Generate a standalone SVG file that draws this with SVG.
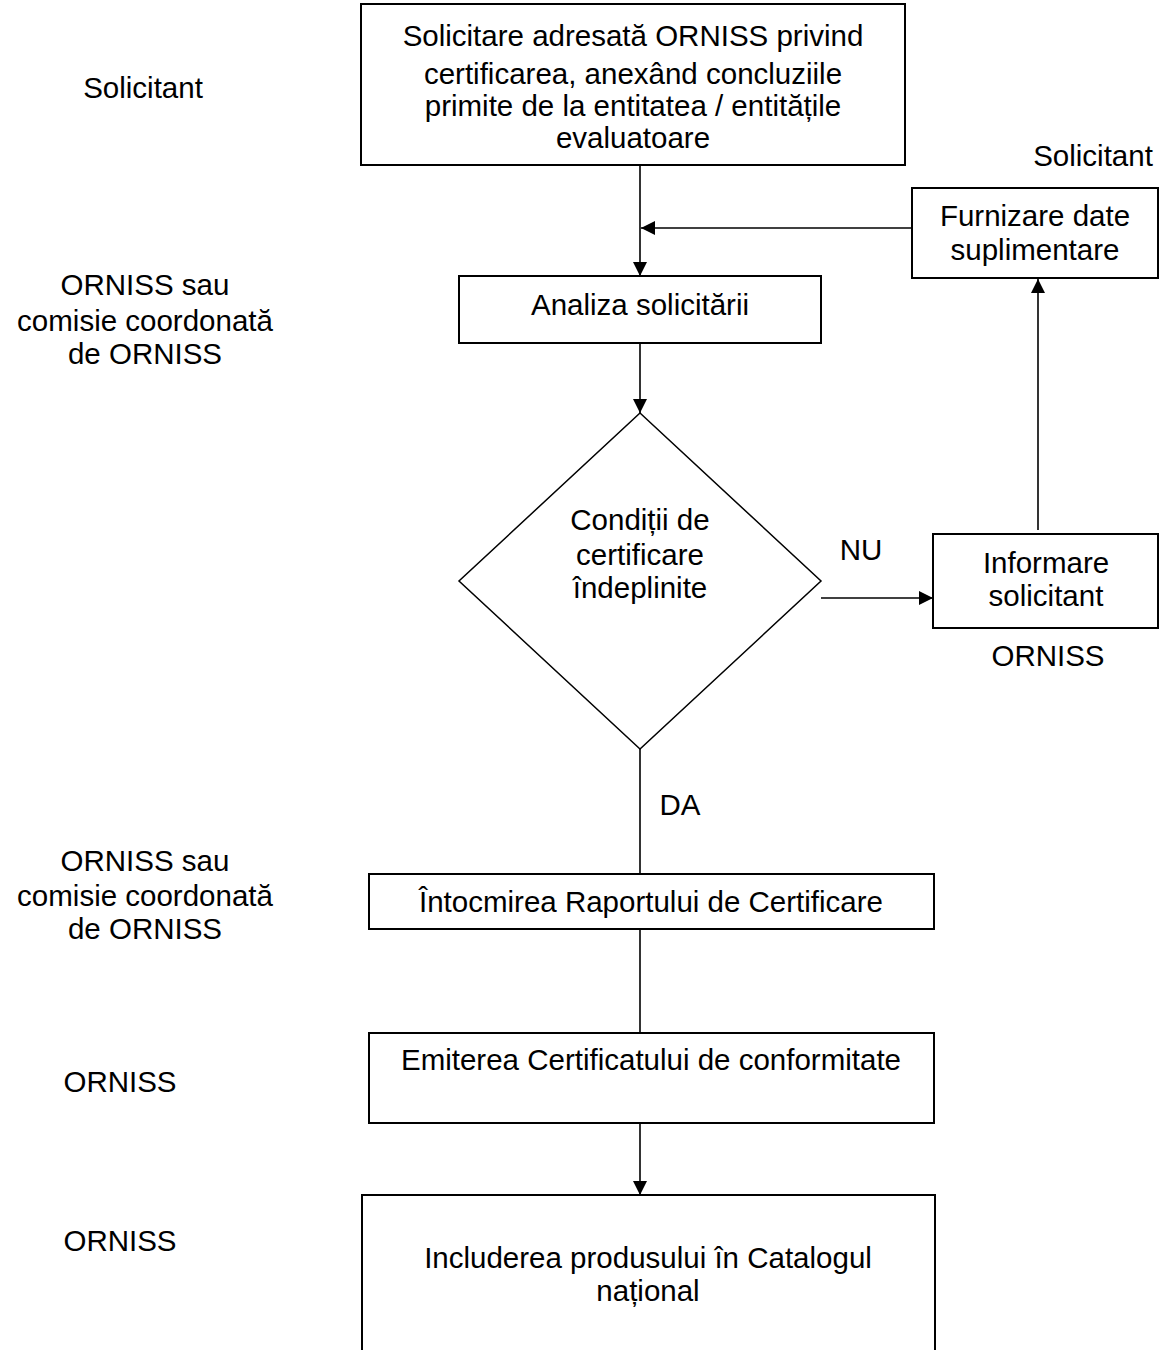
<svg xmlns="http://www.w3.org/2000/svg" width="1160" height="1350" viewBox="0 0 1160 1350">
<style>
text{font-family:"Liberation Sans",Arial,sans-serif;font-size:29.5px;fill:#000;text-anchor:middle}
.box{fill:#fff;stroke:#000;stroke-width:2}
.dia{fill:#fff;stroke:#000;stroke-width:1.5}
.con{fill:none;stroke:#000;stroke-width:1.6}
</style>
<defs>
<marker id="arr" markerUnits="userSpaceOnUse" markerWidth="14" markerHeight="14" refX="14" refY="7" orient="auto">
<path d="M0,0 L14,7 L0,14 z" fill="#000"/>
</marker>
</defs>
<rect width="1160" height="1350" fill="#fff"/>
<g id="roles">
<text x="143" y="98">Solicitant</text>
<text x="145" y="295">ORNISS sau</text>
<text x="145" y="331">comisie coordonată</text>
<text x="145" y="364">de ORNISS</text>
<text x="145" y="871">ORNISS sau</text>
<text x="145" y="906">comisie coordonată</text>
<text x="145" y="939">de ORNISS</text>
<text x="120" y="1092">ORNISS</text>
<text x="120" y="1251">ORNISS</text>
<text x="1093" y="166">Solicitant</text>
<text x="1048" y="666">ORNISS</text>
</g>
<g id="connectors">
<line class="con" x1="640" y1="165" x2="640" y2="276" marker-end="url(#arr)"/>
<line class="con" x1="912" y1="228" x2="641" y2="228" marker-end="url(#arr)"/>
<line class="con" x1="640" y1="343" x2="640" y2="413" marker-end="url(#arr)"/>
<line class="con" x1="821" y1="598" x2="933" y2="598" marker-end="url(#arr)"/>
<line class="con" x1="1038" y1="530" x2="1038" y2="279" marker-end="url(#arr)"/>
<line class="con" x1="640" y1="749" x2="640" y2="874"/>
<line class="con" x1="640" y1="929" x2="640" y2="1033"/>
<line class="con" x1="640" y1="1123" x2="640" y2="1195" marker-end="url(#arr)"/>
<text x="861" y="560">NU</text>
<text x="680" y="815">DA</text>
</g>
<g id="n-solicitare">
<rect class="box" x="361" y="4" width="544" height="161"/>
<text x="633" y="46">Solicitare adresată ORNISS privind</text>
<text x="633" y="84">certificarea, anexând concluziile</text>
<text x="633" y="116">primite de la entitatea / entitățile</text>
<text x="633" y="148">evaluatoare</text>
</g>
<g id="n-furnizare">
<rect class="box" x="912" y="188" width="246" height="90"/>
<text x="1035" y="226">Furnizare date</text>
<text x="1035" y="260">suplimentare</text>
</g>
<g id="n-analiza">
<rect class="box" x="459" y="276" width="362" height="67"/>
<text x="640" y="315">Analiza solicitării</text>
</g>
<g id="n-conditii">
<polygon class="dia" points="640,413 821,581 640,749 459,581"/>
<text x="640" y="530">Condiții de</text>
<text x="640" y="565">certificare</text>
<text x="640" y="598">îndeplinite</text>
</g>
<g id="n-informare">
<rect class="box" x="933" y="534" width="225" height="94"/>
<text x="1046" y="573">Informare</text>
<text x="1046" y="606">solicitant</text>
</g>
<g id="n-intocmirea">
<rect class="box" x="369" y="874" width="565" height="55"/>
<text x="651" y="912">Întocmirea Raportului de Certificare</text>
</g>
<g id="n-emiterea">
<rect class="box" x="369" y="1033" width="565" height="90"/>
<text x="651" y="1070">Emiterea Certificatului de conformitate</text>
</g>
<g id="n-includerea">
<rect class="box" x="362" y="1195" width="573" height="165"/>
<text x="648" y="1268">Includerea produsului în Catalogul</text>
<text x="648" y="1301">național</text>
</g>
</svg>
